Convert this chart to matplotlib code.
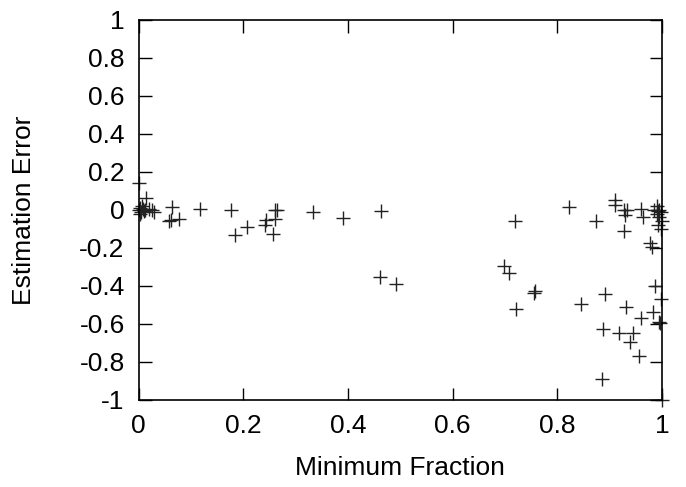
import matplotlib
matplotlib.use("Agg")
import matplotlib.pyplot as plt

# Minimum fraction (x) vs estimation error (y)
min_fraction = [
    0.000, 0.015, 0.000, 0.003, 0.005, 0.008, 0.010, 0.012, 0.002, 0.006,
    0.020, 0.025, 0.030, 0.064, 0.061, 0.077, 0.058, 0.118, 0.176, 0.207,
    0.185, 0.241, 0.244, 0.261, 0.265, 0.261, 0.256, 0.333, 0.391, 0.464,
    0.461, 0.491, 0.719, 0.698, 0.708, 0.722, 0.755, 0.757, 0.822, 0.845,
    0.873, 0.892, 0.911, 0.910, 0.927, 0.934, 0.929, 0.928, 0.932, 0.959,
    0.960, 0.963, 0.983, 0.995, 0.887, 0.917, 0.945, 0.939, 0.957, 0.885,
    0.980, 0.987, 0.998, 0.996, 1.000, 0.990, 0.995, 0.998, 0.990, 0.995,
    1.000, 0.993, 0.998, 0.985, 0.992, 0.977,
]
est_error = [
    0.140, 0.065, 0.000, 0.010, -0.010, 0.005, -0.005, 0.000, -0.020, 0.020,
    0.005, -0.003, -0.010, 0.017, -0.053, -0.049, -0.060, 0.004, 0.000, -0.091,
    -0.130, -0.079, -0.053, 0.000, 0.000, -0.049, -0.126, -0.012, -0.044, -0.005,
    -0.351, -0.391, -0.061, -0.293, -0.333, -0.523, -0.435, -0.425, 0.017, -0.496,
    -0.061, -0.444, 0.053, 0.026, 0.000, 0.000, -0.026, -0.111, -0.510, -0.567,
    0.004, -0.035, -0.535, -0.588, -0.628, -0.646, -0.646, -0.698, -0.768, -0.891,
    -0.193, -0.400, -0.470, -0.597, -1.000, 0.020, 0.000, -0.010, -0.020, -0.040,
    -0.060, -0.080, -0.100, 0.000, -0.005, -0.174,
]

ticks = [0, 0.2, 0.4, 0.6, 0.8, 1]
yticks = [-1, -0.8, -0.6, -0.4, -0.2, 0, 0.2, 0.4, 0.6, 0.8, 1]

plt.rcParams["font.family"] = ["Liberation Sans", "DejaVu Sans"]

fig = plt.figure(figsize=(6.86, 4.87), dpi=100)
ax = fig.add_axes([0.202, 0.179, 0.763, 0.780])

ax.plot(min_fraction, est_error, linestyle="none", marker="+",
        markersize=10, markeredgewidth=1.0, color="#222222", clip_on=False)

ax.set_xlim(0, 1)
ax.set_ylim(-1, 1)
ax.set_xticks(ticks)
ax.set_xticklabels([f"{t:g}" for t in ticks])
ax.set_yticks(yticks)
ax.set_yticklabels([f"{t:g}" for t in yticks])

ax.tick_params(direction="in", length=9, width=1.0, top=True, right=True,
               labelsize=19, pad=10, colors="black")
for spine in ax.spines.values():
    spine.set_linewidth(1.2)

ax.set_xlabel("Minimum Fraction", fontsize=19, labelpad=13)
ax.set_ylabel("Estimation Error", fontsize=19, labelpad=31)

fig.savefig("out.png", dpi=100)
